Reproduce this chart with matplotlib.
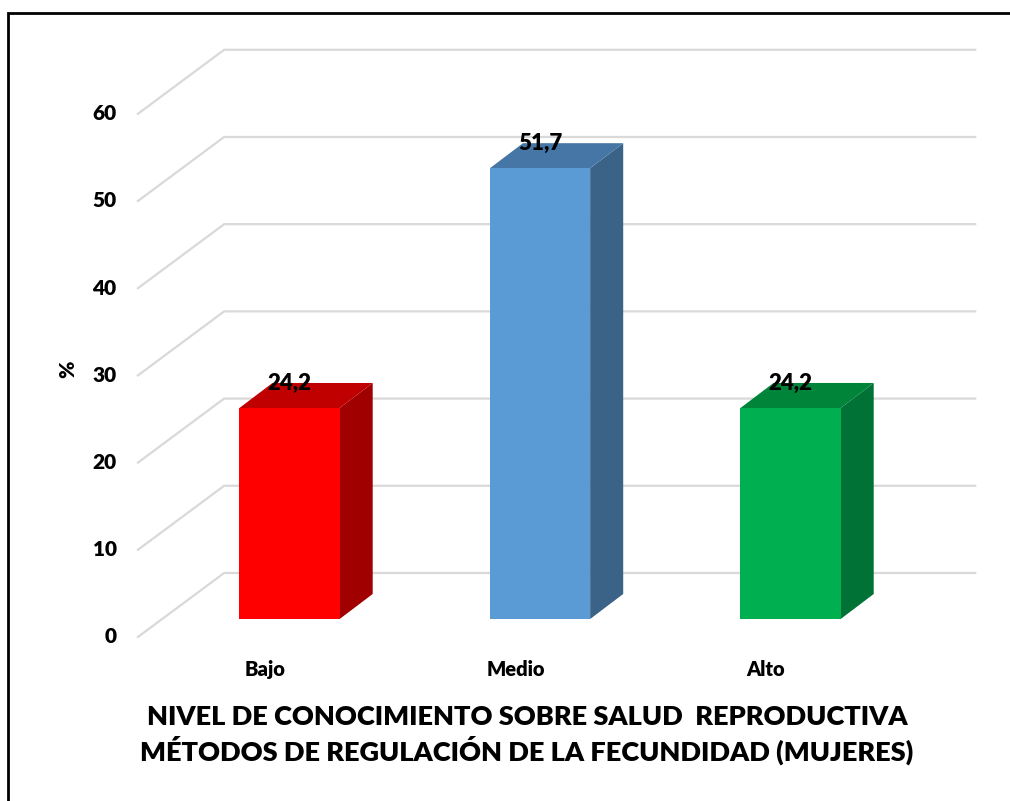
import matplotlib.pyplot as plt
from matplotlib.patches import Polygon, Rectangle

# data
categories = ["Bajo", "Medio", "Alto"]
values = [24.2, 51.7, 24.2]
value_labels = ["24,2", "51,7", "24,2"]
yticks = [0, 10, 20, 30, 40, 50, 60]

front_colors = ["#FF0000", "#5B9BD5", "#00B050"]
top_colors = ["#C00000", "#4676A6", "#00843A"]
side_colors = ["#A00000", "#3B6388", "#007236"]

title = "NIVEL DE CONOCIMIENTO SOBRE SALUD  REPRODUCTIVA\nMÉTODOS DE REGULACIÓN DE LA FECUNDIDAD (MUJERES)"

plt.rcParams['font.family'] = ['Lato', 'DejaVu Sans']
W = 'heavy'

fig = plt.figure(figsize=(10.1, 8.01), dpi=100)
ax = fig.add_axes([0, 0, 1, 1])
# one x unit = one category step, one y unit = one percent
ax.set_xlim(-1.1557, 2.876)
ax.set_ylim(-20.87, 70.99)
ax.axis('off')

# fake 3d geometry (offsets in data units)
wall_front_x, wall_front_dy = -0.605, -2.06
wall_back_x, wall_back_dy = -0.261, 5.28
grid_end_x = 2.737
bar_w = 0.4
depth_dx, depth_dy = 0.132, 2.87

# gridlines: diagonal on the side wall then flat on the back wall
for v in yticks:
    ax.plot([wall_front_x, wall_back_x, grid_end_x],
            [v + wall_front_dy, v + wall_back_dy, v + wall_back_dy],
            color="#D9D9D9", lw=1.6, zorder=1, solid_joinstyle='miter')
    ax.text(wall_front_x - 0.085, v + wall_front_dy, str(v), ha='right', va='center',
            fontsize=15, fontweight=W, zorder=3)

# bars
for i, v in enumerate(values):
    x0 = i - bar_w / 2
    x1 = i + bar_w / 2
    front = [(x0, 0), (x1, 0), (x1, v), (x0, v)]
    top = [(x0, v), (x1, v), (x1 + depth_dx, v + depth_dy), (x0 + depth_dx, v + depth_dy)]
    side = [(x1, 0), (x1 + depth_dx, depth_dy), (x1 + depth_dx, v + depth_dy), (x1, v)]
    ax.add_patch(Polygon(side, closed=True, facecolor=side_colors[i], edgecolor='none', zorder=2))
    ax.add_patch(Polygon(top, closed=True, facecolor=top_colors[i], edgecolor='none', zorder=2))
    ax.add_patch(Polygon(front, closed=True, facecolor=front_colors[i], edgecolor='none', zorder=2))
    ax.text(i, v + depth_dy, value_labels[i], ha='center', va='center',
            fontsize=16, fontweight=W, zorder=4)
    ax.text(i - 0.098, -5.8, categories[i], ha='center', va='center',
            fontsize=14.5, fontweight=W, zorder=3)

ax.text(-1.1557 + 68 / 250.5, 28.7, "%", rotation=90, ha='center', va='center',
        fontsize=15, fontweight=W)

fig.text(527 / 1010, 1 - 735 / 801, title, ha='center', va='center',
         fontsize=19.5, fontweight=W, linespacing=1.3)

# chart border
fig.patches.append(Rectangle((8 / 1010, -0.05), 1.2, 1 - 13 / 801 + 0.05,
                             transform=fig.transFigure, fill=False,
                             edgecolor='black', lw=2, zorder=10))

fig.savefig("out.png", dpi=100)
